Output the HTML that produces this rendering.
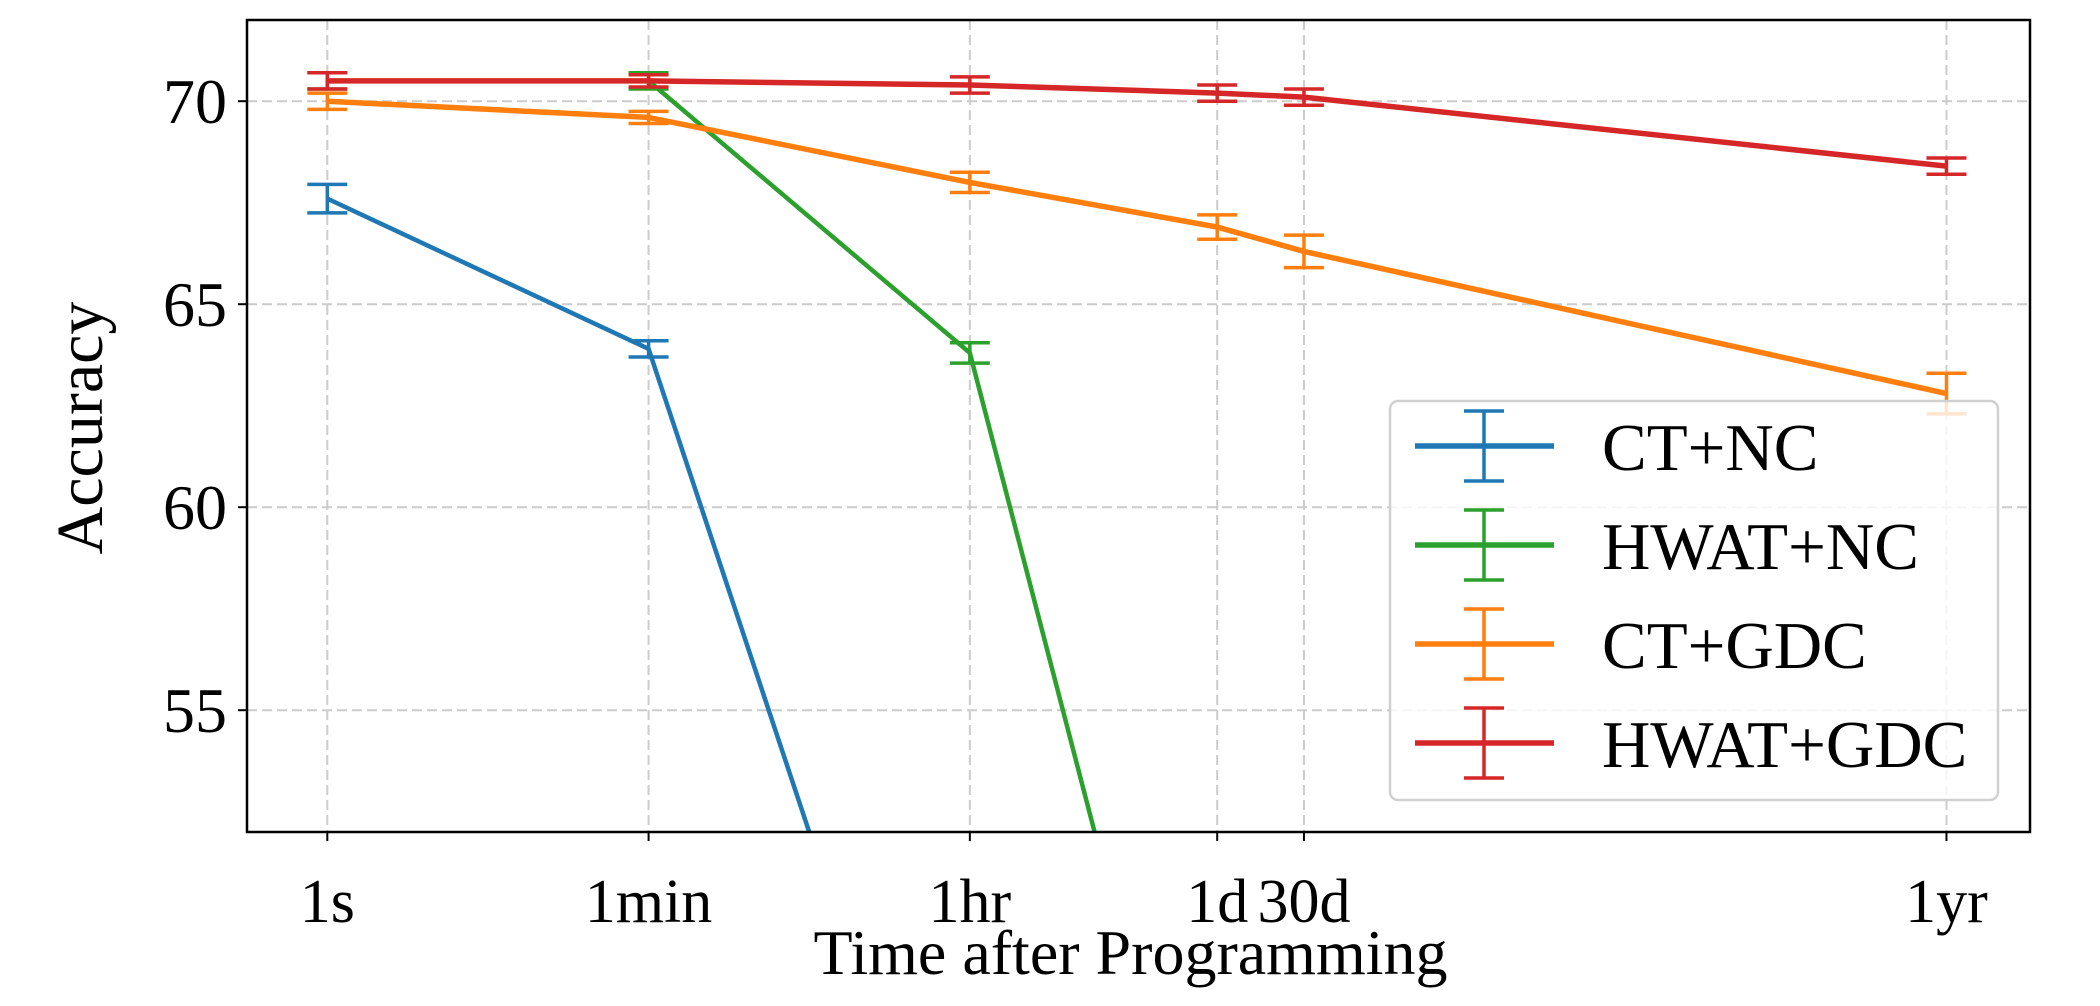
<!DOCTYPE html>
<html><head><meta charset="utf-8"><style>
html,body{margin:0;padding:0;background:#fff;overflow:hidden;}
svg{display:block;font-family:"Liberation Serif",serif;}
</style></head><body>
<svg id="chart" width="2100" height="1006" viewBox="0 0 2100 1006"></svg>
<script>
const categories = ["1s","1min","1hr","1d","30d","1yr"];
const catPos = [0,1,2,2.77,3.04,5.04];
const seriesNames = ["CT+NC","HWAT+NC","CT+GDC","HWAT+GDC"];
const seriesColors = ["#1f77b4","#2ca02c","#ff7f0e","#d62728"];
const ctNc = [67.6,63.9,40.1,null,null,null];
const ctNcErr = [0.35,0.2,0.3,0,0,0];
const hwatNc = [70.5,70.5,63.8,40.4,null,null];
const hwatNcErr = [0.2,0.2,0.25,0.3,0,0];
const ctGdc = [70.0,69.6,68.0,66.9,66.3,62.8];
const ctGdcErr = [0.2,0.15,0.25,0.3,0.4,0.5];
const hwatGdc = [70.5,70.5,70.4,70.2,70.1,68.4];
const hwatGdcErr = [0.2,0.15,0.2,0.2,0.2,0.2];
const yTicks = [55,60,65,70];
const xTickLabels = ["1s","1min","1hr","1d","30d","1yr"];

const svg = document.getElementById('chart');
const NS = "http://www.w3.org/2000/svg";
const L=247,R=2030,T=20,B=832;
const xmin=-0.25,xmax=5.3,ymin=52,ymax=72;
const sx=v=>L+(v-xmin)/(xmax-xmin)*(R-L);
const sy=v=>B-(v-ymin)/(ymax-ymin)*(B-T);
function mk(tag,attrs,parent){const e=document.createElementNS(NS,tag);for(const k in attrs)e.setAttribute(k,attrs[k]);(parent||svg).appendChild(e);return e;}

const defs=mk('defs',{});
const cp=mk('clipPath',{id:'clip'},defs);
mk('rect',{x:L,y:T,width:R-L,height:B-T},cp);

yTicks.forEach(v=>{
  const g=mk('line',{x1:L,x2:R,y1:sy(v),y2:sy(v),stroke:'#cccccc','stroke-width':2,'stroke-dasharray':'10,5'});
  
  
  mk('line',{x1:L-9,x2:L,y1:sy(v),y2:sy(v),stroke:'#000','stroke-width':2});
  const t=mk('text',{x:L-20,y:sy(v)+22,'text-anchor':'end','font-size':64});
  t.textContent=v;
  
  
});
catPos.forEach((p,i)=>{
  const g=mk('line',{x1:sx(p),x2:sx(p),y1:T,y2:B,stroke:'#cccccc','stroke-width':2,'stroke-dasharray':'10,5'});
  
  
  mk('line',{x1:sx(p),x2:sx(p),y1:B,y2:B+9,stroke:'#000','stroke-width':2});
  const t=mk('text',{x:sx(p),y:B+90,'text-anchor':'middle','font-size':62});
  t.textContent=xTickLabels[i];
  
  
});

const allVals=[ctNc,hwatNc,ctGdc,hwatGdc];
const allErr=[ctNcErr,hwatNcErr,ctGdcErr,hwatGdcErr];
const plot=mk('g',{'clip-path':'url(#clip)'});
allVals.forEach((vals,si)=>{
  const c=seriesColors[si];
  let d='';
  vals.forEach((v,i)=>{if(v==null)return;d+=(d?'L':'M')+sx(catPos[i])+','+sy(v);});
  const p=mk('path',{d,fill:'none',stroke:c,'stroke-width':si>=2?5.5:4.5},plot);
  
  
  vals.forEach((v,i)=>{
    if(v==null)return;
    const e=allErr[si][i],x=sx(catPos[i]);
    const g=mk('g',{stroke:c,'stroke-width':3.5},plot);
    
    
    mk('line',{x1:x,x2:x,y1:sy(v-e),y2:sy(v+e)},g);
    mk('line',{x1:x-20,x2:x+20,y1:sy(v-e),y2:sy(v-e)},g);
    mk('line',{x1:x-20,x2:x+20,y1:sy(v+e),y2:sy(v+e)},g);
  });
});

const frame=mk('rect',{x:L,y:T,width:R-L,height:B-T,fill:'none',stroke:'#000','stroke-width':2.5});



const yl=mk('text',{x:0,y:0,transform:'translate(102,428) rotate(-90)','text-anchor':'middle','font-size':66});
yl.textContent='Accuracy';


const xl=mk('text',{x:(L+R)/2-8,y:974,'text-anchor':'middle','font-size':64});
xl.textContent='Time after Programming';



const lg=mk('g',{});


mk('rect',{x:1390,y:401,width:608,height:399,rx:8,fill:'#fff','fill-opacity':0.8,stroke:'#d0d0d0','stroke-width':2.5},lg);
seriesNames.forEach((n,i)=>{
  const y=446+i*99,c=seriesColors[i];
  const g=mk('g',{},lg);
  
  
  mk('line',{x1:1415,x2:1554,y1:y,y2:y,stroke:c,'stroke-width':5.5},g);
  mk('line',{x1:1484,x2:1484,y1:y-35,y2:y+35,stroke:c,'stroke-width':3.5},g);
  mk('line',{x1:1464,x2:1504,y1:y-35,y2:y-35,stroke:c,'stroke-width':3.5},g);
  mk('line',{x1:1464,x2:1504,y1:y+35,y2:y+35,stroke:c,'stroke-width':3.5},g);
  const t=mk('text',{x:1602,y:y+24,'font-size':67},g);
  t.textContent=n;
});
</script>
</body></html>
